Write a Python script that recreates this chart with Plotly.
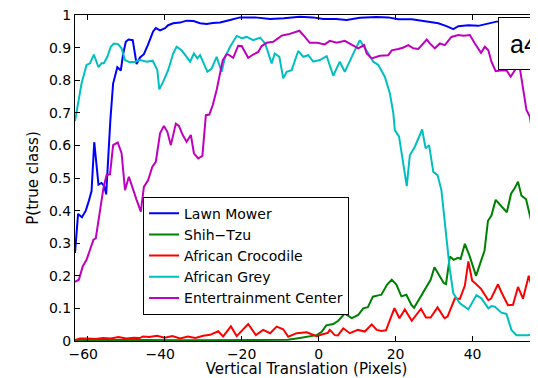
import plotly.graph_objects as go

# ---------------- data ----------------
lawn_x = [-63.3, -62.5, -61.5, -60.5, -59.7, -59.0, -58.3, -57.2, -56.4, -55.7, -55.2, -54.5, -54.1, -53.4,
          -52.3, -51.4, -50.8, -50.1, -49.4, -48.3, -47.3, -46.4, -45.4, -44.3, -43.0, -42.3, -41.2, -39.9,
          -39.1, -37.8, -36.0, -34.3, -32.5, -30.8, -29.1, -27.5, -25.6, -23.0, -20.4, -16.5, -12.6, -9.0,
          -4.9, -1.5, 1.2, 4.5, 7.3, 10.7, 15.0, 18.1, 20.7, 24.2, 27.6, 31.1, 33.2, 35.0, 36.3, 38.9, 41.5,
          43.2, 44.9, 46.2, 50.0, 54.0, 57.0]
lawn_y = [0.27, 0.39, 0.38, 0.40, 0.43, 0.46, 0.61, 0.48, 0.485, 0.475, 0.45, 0.61, 0.68, 0.79,
          0.84, 0.83, 0.88, 0.918, 0.925, 0.923, 0.85, 0.87, 0.88, 0.91, 0.95, 0.96, 0.953, 0.96,
          0.969, 0.975, 0.977, 0.983, 0.982, 0.975, 0.973, 0.976, 0.977, 0.985, 0.993, 0.993, 0.988, 0.99,
          0.995, 0.993, 0.988, 0.988, 0.985, 0.992, 0.994, 0.993, 0.987, 0.987, 0.982, 0.975, 0.966, 0.957,
          0.966, 0.969, 0.967, 0.972, 0.975, 0.98, 0.982, 0.98, 0.983]

shih_x = [-63.3, -55, -45, -35, -25, -16, -8.0, -5.7, -3.1, -0.5, 0.8, 2.0, 3.8, 5.1, 6.8, 8.6, 10.3, 11.6,
          12.8, 14.1, 15.5, 16.3, 17.8, 19.0, 20.2, 21.5, 22.8, 24.1, 24.8, 26.6, 27.9, 29.1, 30.1, 31.4,
          32.5, 33.1, 34.1, 35.1, 36.2, 36.9, 38.0, 39.2, 40.9, 42.2, 43.1, 44.0, 44.9, 46.0, 47.4, 48.9,
          50.0, 51.0, 51.8, 52.7, 53.9, 55.2, 56.1, 57.0]
shih_y = [0.003, 0.002, 0.003, 0.002, 0.002, 0.003, 0.004, 0.008, 0.012, 0.018, 0.028, 0.048, 0.052, 0.062,
          0.084, 0.07, 0.08, 0.10, 0.104, 0.136, 0.14, 0.142, 0.173, 0.188, 0.173, 0.137, 0.142, 0.111, 0.102,
          0.137, 0.165, 0.188, 0.226, 0.198, 0.178, 0.175, 0.259, 0.249, 0.255, 0.252, 0.298, 0.262, 0.200,
          0.246, 0.277, 0.369, 0.385, 0.433, 0.413, 0.395, 0.452, 0.47, 0.489, 0.446, 0.435, 0.37, 0.341, 0.336]

croc_x = [-63.3, -62.0, -60.0, -58.0, -56.0, -54.0, -52.0, -50.0, -48.0, -46.5, -45.6, -44.0, -42.0, -40.0,
          -38.0, -36.0, -34.0, -32.0, -30.0, -28.2, -26.1, -24.8, -22.8, -21.3, -18.3, -16.3, -14.4, -12.6,
          -10.9, -9.2, -7.9, -5.7, -3.1, -1.9, -0.5, 0.8, 2.4, 2.9, 4.2, 5.0, 6.4, 8.1, 10.2, 12.0, 13.8,
          15.1, 16.3, 17.5, 19.7, 21.0, 22.4, 24.2, 26.6, 27.9, 29.1, 30.9, 32.7, 33.5, 35.4, 36.7, 38.0,
          38.9, 39.9, 40.9, 42.2, 44.1, 44.8, 46.6, 47.4, 49.2, 50.5, 51.8, 53.1, 54.6, 55.5, 56.5, 57.0]
croc_y = [0.003, 0.008, 0.008, 0.006, 0.009, 0.008, 0.012, 0.008, 0.010, 0.009, 0.014, 0.012, 0.016, 0.010,
          0.015, 0.008, 0.014, 0.009, 0.016, 0.019, 0.030, 0.014, 0.045, 0.015, 0.052, 0.018, 0.034, 0.024,
          0.044, 0.036, 0.013, 0.024, 0.027, 0.022, 0.015, 0.020, 0.025, 0.034, 0.018, 0.017, 0.039, 0.024,
          0.034, 0.029, 0.051, 0.034, 0.031, 0.033, 0.101, 0.070, 0.097, 0.062, 0.099, 0.072, 0.072, 0.103,
          0.070, 0.075, 0.131, 0.129, 0.170, 0.244, 0.185, 0.175, 0.160, 0.125, 0.130, 0.174, 0.152, 0.110,
          0.111, 0.166, 0.130, 0.200, 0.160, 0.142, 0.155]

grey_x = [-63.3, -62.4, -61.6, -60.3, -59.4, -58.4, -57.2, -56.4, -55.8, -54.9, -54.0, -53.2, -52.1, -51.2,
          -50.3, -49.0, -47.7, -46.4, -44.7, -43.1, -41.9, -41.4, -40.4, -39.1, -37.8, -36.9, -35.6, -34.3,
          -33.4, -32.4, -31.5, -30.8, -30.0, -28.9, -27.8, -26.5, -25.2, -24.3, -23.0, -21.3, -20.0, -18.7,
          -17.0, -15.2, -13.9, -13.1, -12.2, -11.4, -10.2, -9.2, -8.3, -7.0, -5.3, -4.0, -2.7, -1.4, 0.3,
          2.1, 3.8, 5.5, 6.8, 9.0, 10.7, 12.0, 12.9, 14.2, 15.5, 16.4, 17.2, 18.5, 19.4, 19.8, 20.9, 22.9,
          23.7, 25.0, 26.9, 27.8, 28.7, 29.8, 30.9, 31.9, 33.2, 34.1, 35.0, 36.7, 38.9, 41.0, 42.3, 44.1,
          44.9, 45.8, 47.5, 48.8, 50.1, 51.4, 54.4, 56.2, 56.9]
grey_y = [0.675, 0.739, 0.79, 0.847, 0.852, 0.879, 0.84, 0.852, 0.852, 0.872, 0.903, 0.913, 0.911, 0.898,
          0.862, 0.855, 0.857, 0.862, 0.857, 0.86, 0.831, 0.772, 0.795, 0.831, 0.882, 0.903, 0.892, 0.872,
          0.857, 0.882, 0.867, 0.877, 0.857, 0.826, 0.836, 0.872, 0.826, 0.872, 0.903, 0.936, 0.929, 0.933,
          0.923, 0.931, 0.913, 0.882, 0.852, 0.882, 0.872, 0.806, 0.826, 0.831, 0.89, 0.872, 0.877, 0.857,
          0.862, 0.874, 0.814, 0.857, 0.826, 0.882, 0.923, 0.9, 0.882, 0.857, 0.847, 0.826, 0.811, 0.76,
          0.70, 0.647, 0.627, 0.475, 0.57, 0.596, 0.649, 0.591, 0.601, 0.519, 0.509, 0.463, 0.32, 0.218,
          0.146, 0.116, 0.097, 0.141, 0.131, 0.1, 0.107, 0.105, 0.087, 0.083, 0.034, 0.018, 0.018, 0.022, 0.03]

ent_x = [-63.3, -62.3, -61.3, -60.3, -59.4, -58.5, -57.9, -57.2, -56.6, -55.9, -55.1, -54.2, -53.4, -52.2,
         -51.2, -50.3, -49.3, -48.2, -47.3, -46.2, -45.4, -44.3, -43.2, -42.3, -41.2, -40.2, -39.3, -38.4,
         -37.1, -36.3, -35.3, -34.3, -33.2, -32.4, -31.3, -30.2, -29.3, -28.4, -27.5, -26.5, -25.6, -24.9,
         -23.9, -23.5, -22.2, -20.9, -20.0, -18.3, -17.0, -15.7, -14.8, -13.5, -11.8, -9.6, -7.9, -6.6,
         -5.0, -4.0, -2.3, -0.4, 1.6, 2.9, 4.7, 6.8, 8.6, 10.3, 11.8, 12.5, 13.8, 15.9, 18.1, 19.0, 20.7,
         21.9, 23.3, 24.6, 25.9, 28.1, 28.9, 30.2, 31.5, 32.8, 34.5, 36.3, 37.7, 39.3, 40.6, 42.2, 43.2,
         44.1, 44.9, 46.0, 47.3, 48.8, 49.9, 51.2, 52.3, 53.1, 54.0, 54.9, 55.7, 56.6, 57.0]
ent_y = [0.181, 0.188, 0.229, 0.249, 0.28, 0.311, 0.315, 0.367, 0.42, 0.47, 0.509, 0.512, 0.601, 0.609,
         0.576, 0.463, 0.504, 0.463, 0.433, 0.397, 0.473, 0.494, 0.535, 0.55, 0.637, 0.66, 0.642, 0.601,
         0.667, 0.66, 0.632, 0.611, 0.632, 0.576, 0.56, 0.568, 0.693, 0.695, 0.724, 0.77, 0.821, 0.862,
         0.879, 0.879, 0.869, 0.906, 0.905, 0.869, 0.879, 0.887, 0.905, 0.915, 0.918, 0.937, 0.941, 0.946,
         0.952, 0.939, 0.915, 0.915, 0.91, 0.921, 0.915, 0.921, 0.91, 0.898, 0.908, 0.882, 0.867, 0.875,
         0.877, 0.892, 0.896, 0.9, 0.908, 0.898, 0.896, 0.925, 0.913, 0.898, 0.913, 0.908, 0.933, 0.939,
         0.937, 0.939, 0.913, 0.884, 0.903, 0.892, 0.857, 0.828, 0.83, 0.831, 0.811, 0.835, 0.836, 0.77,
         0.709, 0.688, 0.627, 0.545, 0.485]

series_names = ["Lawn Mower", "Shih\u2212Tzu", "African Crocodile", "African Grey", "Entertrainment Center"]
series_colors = ["#0000FF", "#008000", "#FF0000", "#00BFBF", "#BF00BF"]
series_x = [lawn_x, shih_x, croc_x, grey_x, ent_x]
series_y = [lawn_y, shih_y, croc_y, grey_y, ent_y]

x_ticks = [-60, -40, -20, 0, 20, 40, 60]
x_ticktext = ["\u221260\u2007", "\u221240\u2007", "\u221220", "0", "20", "40", "60"]
y_ticks = [0, 0.1, 0.2, 0.3, 0.4, 0.5, 0.6, 0.7, 0.8, 0.9, 1]
y_ticktext = ["0", "0.1", "0.2", "0.3", "0.4", "0.5", "0.6", "0.7", "0.8", "0.9", "1"]

FONT = "DejaVu Sans, Liberation Sans, Arial, sans-serif"

fig = go.Figure()
for name, color, xs, ys in zip(series_names, series_colors, series_x, series_y):
    fig.add_trace(go.Scatter(x=xs, y=ys, mode="lines", name=name,
                             line=dict(color=color, width=2)))

# page body has an 8px margin: the figure is 530x370 so that it fills the 538x378 window
fig.update_layout(
    width=530, height=370, autosize=False,
    margin=dict(l=67, r=0, t=7, b=37, pad=0),
    paper_bgcolor="white", plot_bgcolor="white",
    font=dict(family=FONT, size=14, color="black"),
    showlegend=True,
    legend=dict(x=0.147, y=0.443, xanchor="left", yanchor="top",
                bgcolor="white", bordercolor="black", borderwidth=1,
                font=dict(family=FONT, size=14, color="black"),
                tracegroupgap=0, itemwidth=30, entrywidth=217, entrywidthmode="pixels"),
    annotations=[dict(text="a4", xref="paper", yref="paper", x=0.913, y=0.993,
                      xanchor="left", yanchor="top", showarrow=False,
                      font=dict(family="Liberation Sans, Arial, sans-serif", size=25, color="black"),
                      bgcolor="white", bordercolor="black", borderwidth=1,
                      borderpad=11, width=60, height=29, align="left")],
)

fig.update_xaxes(range=[-63.3, 57.0], tickvals=x_ticks, ticktext=x_ticktext,
                 showgrid=False, zeroline=False, showline=True, linecolor="black", linewidth=1,
                 mirror="ticks", ticks="inside", ticklen=5, tickcolor="black",
                 tickfont=dict(family=FONT, size=14),
                 title=dict(text="Vertical Translation (Pixels)", standoff=2,
                            font=dict(family=FONT, size=15)),
                 automargin=False)
fig.update_yaxes(range=[0, 1.0003], tickvals=y_ticks, ticktext=y_ticktext,
                 showgrid=False, zeroline=False, showline=True, linecolor="black", linewidth=1,
                 mirror=False, ticks="inside", ticklen=5, tickcolor="black",
                 ticklabeloverflow="allow",
                 tickfont=dict(family=FONT, size=14),
                 title=dict(text="P(true class)", standoff=6, font=dict(family=FONT, size=15)),
                 automargin=False)

fig.write_html("out.html")
